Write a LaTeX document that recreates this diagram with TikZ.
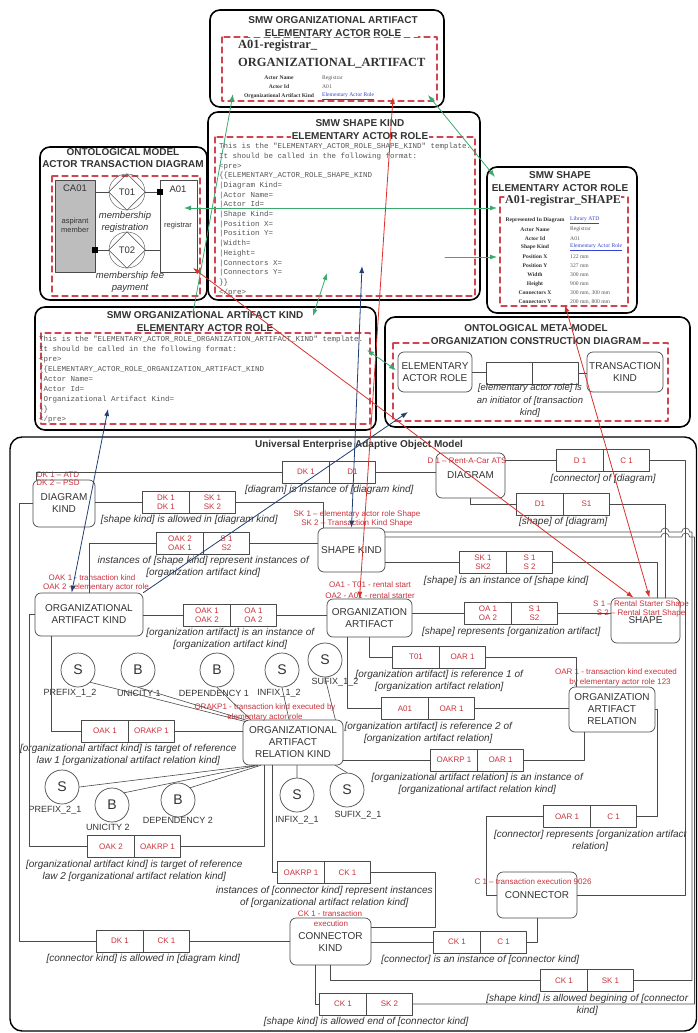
\documentclass[tikz,border=0pt]{standalone}
\usepackage{fontspec}
\setmainfont{Liberation Sans}
\setmonofont{Liberation Mono}
\newfontfamily\wikiserif{Liberation Serif}
\usetikzlibrary{arrows.meta, positioning}
\definecolor{ink}{HTML}{333333}
\definecolor{wire}{HTML}{4A4A4A}
\definecolor{rtxt}{HTML}{C8323C}
\definecolor{rdash}{HTML}{D04650}
\definecolor{lgrn}{HTML}{3AAA6E}
\definecolor{lnavy}{HTML}{213F73}
\definecolor{lred}{HTML}{D8312C}
\definecolor{lnk}{HTML}{3344CC}
\definecolor{cagray}{HTML}{BDBDBD}
\definecolor{codeg}{HTML}{555555}
\newcommand\fsz[2]{\fontsize{#1}{#2}\selectfont}
\newcommand\lnkt[1]{\textcolor{lnk}{\underline{#1}}}
\newcommand\reltab[6]{\node[cell] (#1a) at (#2,#3) {#4};
  \node[cell, right=0pt of #1a] (#1b) {#5};
  \node[capt, below=1.5pt of #1a.south east] (#1c) {#6};}
\tikzset{el/.style={line cap=round, line join=round},
  frame/.style={draw=black, line width=1.6pt, rounded corners=10pt},
  redfr/.style={draw=rdash, line width=1.1pt, dash pattern=on 6pt off 4pt},
  ttl/.style={font=\bfseries\fsz{10}{12.5}, text=ink, align=center, fill=white, inner sep=0.5pt},
  ent/.style={draw=wire, line width=0.7pt, rounded corners=6pt, align=center, text=ink, font=\fsz{10}{12}, inner sep=1pt},
  cell/.style={draw=wire, line width=0.7pt, minimum width=46.5pt, minimum height=22pt, inner sep=0pt, outer sep=0pt, text=rtxt, align=center, font=\fsz{8}{9}},
  capt/.style={font=\itshape\fsz{10}{12}, text=ink, align=center, inner sep=1pt},
  lbl/.style={text=rtxt, font=\fsz{8}{9}, inner sep=0pt},
  ln/.style={draw=wire, line width=0.6pt},
  rule/.style={draw=wire, line width=0.7pt, circle, minimum size=34pt, inner sep=0pt, font=\fsz{14}{14}, text=ink},
  rname/.style={font=\fsz{9}{10}, text=ink, inner sep=0pt},
  wikitab/.style={font=\wikiserif\bfseries\fsz{5.6}{6}, text=ink, inner sep=0pt},
  wikival/.style={font=\wikiserif\fsz{5.6}{6}, text=codeg, inner sep=0pt, anchor=west},
  gl/.style={draw=lgrn, line width=0.8pt},
  nl/.style={draw=lnavy, line width=0.8pt},
  rl/.style={draw=lred, line width=0.8pt},
  tip/.style={arrows={-Latex[length=7pt,width=5pt]}},
  tips/.style={arrows={Latex[length=7pt,width=5pt]-Latex[length=7pt,width=5pt]}}}

\begin{document}
\begin{tikzpicture}[x=1pt, y=-1pt, el]
  \useasboundingbox (0,0) rectangle (697,1033);
  % SMW pages
  \draw[frame] (210,10) rectangle (444,107);
  \draw[redfr] (222,37) rectangle (437,101);
  \node[ttl] (pAt) at (333,26.5) {SMW ORGANIZATIONAL ARTIFACT\\ELEMENTARY ACTOR ROLE};
  \node[font=\wikiserif\bfseries\fsz{12.5}{14}, text=ink, anchor=west, inner sep=0pt] (pAn1) at (238,46) {A01-registrar\_};
  \node[font=\wikiserif\bfseries\fsz{12.5}{14}, text=ink, anchor=west, inner sep=0pt] (pAn2) at (238,63) {ORGANIZATIONAL\_ARTIFACT};
  \foreach \k/\v [count=\i] in {Actor Name/Registrar, Actor Id/A01, Organizational Artifact Kind/\lnkt{Elementary Actor Role}}
    {\node[wikitab] (pAk\i) at (279,69+9*\i) {\k}; \node[wikival] (pAv\i) at (322,69+9*\i) {\v};}

  \draw[frame] (208,112) rectangle (480,300);
  \draw[redfr] (215,137) rectangle (475,296);
  \node[ttl] (pBt) at (360,129.5) {SMW SHAPE KIND\\ELEMENTARY ACTOR ROLE};
  \node[font=\ttfamily\fsz{7.5}{9.7}, text=codeg, align=left, anchor=north west, inner sep=0pt] (pBc) at (219,143) {This is the "ELEMENTARY\_ACTOR\_ROLE\_SHAPE\_KIND" template.\\It should be called in the following format:\\<pre>\\\{\{ELEMENTARY\_ACTOR\_ROLE\_SHAPE\_KIND\\|Diagram Kind=\\|Actor Name=\\|Actor Id=\\|Shape Kind=\\|Position X=\\|Position Y=\\|Width=\\|Height=\\|Connectors X=\\|Connectors Y=\\\}\}\\</pre>};

  \draw[frame] (40,147) rectangle (207,300);
  \draw[redfr] (52,176) rectangle (200,296);
  \node[ttl, fill=none] (pCt) at (123,158) {ONTOLOGICAL MODEL\\ACTOR TRANSACTION DIAGRAM};
  \node[draw=wire, fill=cagray, minimum width=40pt, minimum height=92pt, inner sep=0pt] (ca) at (75,226) {};
  \node[font=\fsz{9.5}{10}, text=ink] (cat) at (75,188) {CA01};
  \node[font=\fsz{7.5}{9}, text=ink, align=center] (cam) at (75,225) {aspirant\\member};
  \node[draw=wire, fill=white, minimum width=37pt, minimum height=92pt, inner sep=0pt] (a01) at (178.5,226) {};
  \node[font=\fsz{9.5}{10}, text=ink] (a01t) at (178,189) {A01};
  \node[font=\fsz{7.5}{9}, text=ink] (a01r) at (178,226) {registrar};
  \foreach \n/\y/\t in {t01/192/T01, t02/250/T02}{
    \node[draw=wire, circle, minimum size=36pt, inner sep=0pt, font=\fsz{9.5}{10}, text=ink] (\n) at (127,\y) {\t};
    \draw[ln] (\n.north) -- (\n.east) -- (\n.south) -- (\n.west) -- cycle;}
  \draw[ln] (t01.west -| ca.east) -- (t01.west) (t01.east) -- (t01.east -| a01.west);
  \draw[ln] (t02.west -| ca.east) -- (t02.west) (t02.east) -- (t02.east -| a01.west);
  \node[fill=black, minimum size=6pt, inner sep=0pt] (sq1) at (t01.east -| a01.west) {};
  \node[fill=black, minimum size=6pt, inner sep=0pt] (sq2) at (t02.west -| ca.east) {};
  \node[font=\itshape\fsz{9.5}{11.5}, text=ink, align=center] (t01c) at (125,222) {membership\\registration};
  \node[font=\itshape\fsz{9.5}{11.5}, text=ink, align=center] (t02c) at (130,282) {membership fee\\payment};

  \draw[frame] (487,167) rectangle (637,313);
  \draw[redfr] (500,197) rectangle (628,306);
  \node[ttl] (pDt) at (560,181.5) {SMW SHAPE\\ELEMENTARY ACTOR ROLE};
  \node[font=\wikiserif\bfseries\fsz{12}{14}, text=ink, fill=white, inner sep=0.5pt] (pDn) at (563,201) {A01-registrar\_SHAPE};
  \foreach \k/\v [count=\i] in {Represented In Diagram/\lnkt{Library ATD}, Actor Name/Registrar, Actor Id/A01, Shape Kind/\lnkt{Elementary Actor Role}, Position X/122 mm, Position Y/327 mm, Width/300 mm, Height/900 mm, {Connectors X/300 mm, 300 mm}, {Connectors Y/200 mm, 800 mm}}
    {\node[wikitab] (pDk\i) at (535,211+9.1*\i) {\k}; \node[wikival] (pDv\i) at (570,211+9.1*\i) {\v};}

  \draw[frame] (35,307) rectangle (376,430);
  \draw[redfr] (41,333) rectangle (370,424);
  \node[ttl] (pEt) at (205,321.5) {SMW ORGANIZATIONAL ARTIFACT KIND\\ELEMENTARY ACTOR ROLE};
  \node[font=\ttfamily\fsz{7.5}{10}, text=codeg, align=left, anchor=north west, inner sep=0pt] (pEc) at (39,336) {This is the "ELEMENTARY\_ACTOR\_ROLE\_ORGANIZATION\_ARTIFACT\_KIND" template.\\It should be called in the following format:\\<pre>\\\{\{ELEMENTARY\_ACTOR\_ROLE\_ORGANIZATION\_ARTIFACT\_KIND\\|Actor Name=\\|Actor Id=\\|Organizational Artifact Kind=\\\}\}\\</pre>};

  \draw[frame] (385,317) rectangle (690,427);
  \draw[redfr] (393,343) rectangle (668,421);
  \node[ttl] (pFt) at (536,334.5) {ONTOLOGICAL META-MODEL\\ORGANIZATION CONSTRUCTION  DIAGRAM};
  \node[ent, minimum width=74pt, minimum height=40pt] (ear) at (435,372) {ELEMENTARY\\ACTOR ROLE};
  \node[ent, minimum width=76pt, minimum height=40pt] (tk) at (625,372) {TRANSACTION\\KIND};
  \node[draw=wire, line width=0.7pt, minimum width=46pt, minimum height=22pt, inner sep=0pt] (init1) at (509,373) {};
  \node[draw=wire, line width=0.7pt, minimum width=46pt, minimum height=22pt, inner sep=0pt, right=0pt of init1] (init2) {};
  \draw[ln] (ear.east) -- (ear.east -| init1.west) (init2.east) -- (init2.east -| tk.west);
  \node[capt, font=\itshape\fsz{9.5}{12.5}] (initc) at (530,401) {[elementary actor role] is\\an initiator of [transaction\\kind]};

  % Universal Enterprise Adaptive Object Model
  \draw[frame, line width=1.4pt, rounded corners=12pt] (10,437) rectangle (696.5,1031);
  \node[font=\bfseries\fsz{10}{12}, text=ink] (uTt) at (359,445) {Universal Enterprise Adaptive Object Model};

  \node[ent, minimum width=62pt, minimum height=47pt] (dk) at (64,503.5) {DIAGRAM\\KIND};
  \node[ent, minimum width=69pt, minimum height=45pt] (dg) at (470.5,475.5) {DIAGRAM};
  \node[ent, minimum width=67pt, minimum height=44pt] (sk) at (351.5,550) {SHAPE KIND};
  \node[ent, minimum width=108pt, minimum height=43pt] (oak) at (89,614.5) {ORGANIZATIONAL\\ARTIFACT KIND};
  \node[ent, minimum width=85pt, minimum height=38pt] (oa) at (369.5,618) {ORGANIZATION\\ARTIFACT};
  \node[ent, minimum width=69pt, minimum height=45pt] (sh) at (645.5,620.5) {SHAPE};
  \node[ent, minimum width=86pt, minimum height=45pt] (oar) at (612,709.5) {ORGANIZATION\\ARTIFACT\\RELATION};
  \node[ent, minimum width=100pt, minimum height=45pt] (orak) at (293,742.5) {ORGANIZATIONAL\\ARTIFACT\\RELATION KIND};
  \node[ent, minimum width=80pt, minimum height=46pt] (cn) at (537,895) {CONNECTOR};
  \node[ent, minimum width=81pt, minimum height=47pt] (ck) at (330.5,941.5) {CONNECTOR\\KIND};

  \foreach \x/\y/\t [count=\i] in {58/475/DK 1 -- ATD, 58/483/DK 2 -- PSD, 467/461/D 1 -- Rent-A-Car ATS, 357/514/SK 1 -- elementary actor role Shape, 357/523/SK 2 -- Transaction Kind Shape, 92/578/OAK 1 - transaction kind, 96/587/OAK 2 - elementary actor role, 370/585/OA1 - T01 - rental start, 370/596/OA2 - A01 - rental starter, 641/604/S 1 -- Rental Starter Shape, 641/613/S 2 -- Rental Start Shape, 265/707/ORAKP1 - transaction kind executed by, 265/717/elementary actor role, 616/672/OAR 1 - transaction kind executed, 620/682/by elementary actor role 123, 533/882/C 1 -- transaction execution 9026, 330/914/CK 1 - transaction, 331/924/execution}
    {\node[lbl] (lb\i) at (\x,\y) {\t};}

  \foreach \n/\cx/\cy/\t/\lx/\ly/\lt in {c1/78/670/S/70/693/PREFIX\_1\_2, c2/138/670/B/139/693/UNICITY 1, c3/217/670/B/214/693/DEPENDENCY 1, c4/282/670/S/279/693/INFIX\_1\_2, c5/325/660/S/335/682/SUFIX\_1\_2, c6/62/787/S/55/810/PREFIX\_2\_1, c7/112/805/B/108/827/UNICITY 2, c8/178/800/B/178/820/DEPENDENCY 2, c9/297/795/S/297/820/INFIX\_2\_1, c10/347/790/S/358/815/SUFIX\_2\_1}
    {\node[rule] (\n) at (\cx,\cy) {\t}; \node[rname] (\n l) at (\lx,\ly) {\lt};}

  \reltab{t1}{306}{472}{DK 1}{D1}{[diagram] is instance of [diagram kind]}
  \reltab{t2}{580}{460.5}{D 1}{C 1}{[connector] of [diagram]}
  \reltab{t3}{540}{504}{D1}{S1}{[shape] of [diagram]}
  \reltab{t4}{166}{502}{DK 1\\DK 1}{SK 1\\SK 2}{[shape kind] is allowed in [diagram kind]}
  \reltab{t5}{180}{543}{OAK 2\\OAK 1}{S 1\\S2}{instances of [shape kind] represent instances of\\{}[organization artifact kind]}
  \reltab{t6}{483}{562.5}{SK 1\\SK2}{S 1\\S 2}{[shape] is an instance of [shape kind]}
  \reltab{t7}{207}{615}{OAK 1\\OAK 2}{OA 1\\OA 2}{[organization artifact] is an instance of\\{}[organization artifact kind]}
  \reltab{t8}{488}{613.5}{OA 1\\OA 2}{S 1\\S2}{[shape] represents [organization artifact]}
  \reltab{t9}{416}{657}{T01}{OAR 1}{[organization artifact] is reference 1 of\\{}[organization artifact relation]}
  \reltab{t10}{405}{708.5}{A01}{OAR 1}{[organization artifact] is reference 2 of\\{}[organization artifact relation]}
  \reltab{t11}{105}{731}{OAK 1}{ORAKP 1}{[organizational artifact kind] is target of reference\\law 1 [organizational artifact relation kind]}
  \reltab{t12}{454}{760}{OAKRP 1}{OAR 1}{[organizational artifact relation] is an instance of\\{}[organizational artifact relation kind]}
  \reltab{t13}{567}{816.5}{OAR 1}{C 1}{[connector] represents [organization artifact\\relation]}
  \reltab{t14}{111}{846.5}{OAK 2}{OAKRP 1}{[organizational artifact kind] is target of reference\\law 2 [organizational artifact relation kind]}
  \reltab{t15}{301}{872.5}{OAKRP 1}{CK 1}{instances of [connector kind] represent instances\\of [organizational artifact relation kind]}
  \reltab{t16}{120}{941}{DK 1}{CK 1}{[connector kind] is allowed in [diagram kind]}
  \reltab{t17}{457}{942}{CK 1}{C 1}{[connector] is an instance of [connector kind]}
  \reltab{t18}{564}{980.5}{CK 1}{SK 1}{[shape kind] is allowed begining of [connector\\kind]}
  \reltab{t19}{343}{1004}{CK 1}{SK 2}{[shape kind] is allowed end of [connector kind]}

  \draw[ln] ([xshift=4pt]dk.north west) |- (t1a.west) (t1b.east) -- (t1b.east -| dg.west);
  \draw[ln] (t2a.west -| dg.east) -- (t2a.west) (t2b.east) -- ++(36,0) |- (cn.east);
  \draw[ln] (dg.south) |- (t3a.west) (t3b.east) -| ([xshift=-15pt]sh.north east);
  \draw[ln] (t4a.west -| dk.east) -- (t4a.west) (t4b.east) -| ([xshift=6pt]sk.north west);
  \draw[ln] (t5a.west) -| (oak.north) (t5b.east) -- (t5b.east -| sk.west);
  \draw[ln] (dk.west) -- ++(-13,0) |- (t16a.west);
  \draw[ln] (t7a.west -| oak.east) -- (t7a.west) (t7b.east) -- (t7b.east -| oa.west);
  \draw[ln] (t6a.west -| sk.east) -- (t6a.west) (t6b.east) -| ([xshift=-23pt]sh.north east);
  \draw[ln] (t8a.west -| oa.east) -- (t8a.west) (t8b.east) -- (t8b.east -| sh.west);
  \foreach \hy/\vx/\n in {532/692/t18, 537/694.5/t19}
    \draw[ln] (sk.east |- 0,\hy) -- (661,\hy) arc[start angle=180, end angle=360, radius=4] -- (681.75,\hy) arc[start angle=180, end angle=360, radius=4] -- (\vx,\hy) |- (\n b.east);
  \draw[ln] (oa.south) |- (t9a.west) (t9b.east) -| ([xshift=8pt]oar.north west);
  \draw[ln] ([xshift=21pt]oa.south west) |- (t10a.west) (t10b.east) -- (t10b.east -| oar.west);
  \draw[ln] (t12a.west -| orak.east) -- (t12a.west) (t12b.east) -| ([xshift=16pt]oar.south west);
  \draw[ln] ([xshift=17pt]oak.south west) |- (t11a.west) (t11b.east) -- (t11b.east -| orak.west);
  \draw[ln] (oak.west) -- ++(-5,0) |- (t14a.west);
  \draw[ln] ([xshift=22pt]orak.south west) |- (t14b.east);
  \draw[ln] ([xshift=30pt]orak.south west) |- (t15a.west) (t15b.east) -- ++(65,0) |- ([yshift=14pt]ck.east);
  \draw[ln] (t16b.east) -- (t16b.east -| ck.west) (t17a.west -| ck.east) -- (t17a.west) (t17b.east) -| (cn.south);
  \draw[ln] (t13a.west) -- ++(-57,0) |- (cn.west) (t13b.east) -- ++(21,0) |- (oar.east);
  \draw[ln] (ck.south) |- (t18a.west) ([xshift=-15pt]ck.south) |- (t19a.west);
  \draw[ln] (c1.south east) -- ([xshift=3pt,yshift=-2pt]orak.north west) (c2.south) -- ([xshift=5pt,yshift=-1pt]orak.north west) (c3.south) -- ([xshift=8pt]orak.north west);
  \draw[ln] (c4.south) -- ([xshift=-4pt]orak.north) (c5.south) -- ([xshift=-8pt]orak.north east);
  \draw[ln] (c6.east) -- ([xshift=12pt]orak.south west) (c7.north east) -- ([xshift=15pt]orak.south west) (c8.north east) -- ([xshift=18pt]orak.south west);
  \draw[ln] (c9.north) -- (c9.north |- orak.south) (c10.north) -- ([xshift=-8pt]orak.south east);

  % links between pages and models
  \coordinate (gA1) at (233,94); \coordinate (gE1) at (193,313);
  \coordinate (gA2) at (428,95); \coordinate (gD1) at (495,177);
  \coordinate (gC1) at (184,208); \coordinate (gD2) at (497,208);
  \coordinate (gB1) at (445,257); \coordinate (gD3) at (497,257);
  \coordinate (gB2) at (327,273); \coordinate (gE2) at (313,316);
  \coordinate (gE3) at (367,350); \coordinate (gF1) at (396,370);
  \coordinate (nB1) at (362,266); \coordinate (nE1) at (108,409); \coordinate (nF1) at (408,412);
  \coordinate (rA1) at (393,97); \coordinate (rC1) at (193,268); \coordinate (rD1) at (565,305);
  \draw[gl, tip] (gE1) -- (gA1);
  \draw[gl, tips] (gA2) -- (gD1);
  \draw[gl, tips] (gC1) -- (gD2);
  \draw[gl, tip] (gB1) -- (gD3);
  \draw[gl, tips] (gB2) -- (gE2);
  \draw[gl, tips] (gE3) -- (gF1);
  \draw[nl, tips] (nB1) -- (sk.north);
  \draw[nl, tips] (nE1) -- ([xshift=37pt]oak.north west);
  \draw[nl, tip] (oak.north east) -- (nF1);
  \draw[rl, tips] (rA1) -- ([xshift=-10pt]oa.north);
  \draw[rl, tips] (rC1) -- ([xshift=-12pt]sh.north);
  \draw[rl, tips] (rD1) -- ([xshift=4pt]sh.north);
\end{tikzpicture}
\end{document}
